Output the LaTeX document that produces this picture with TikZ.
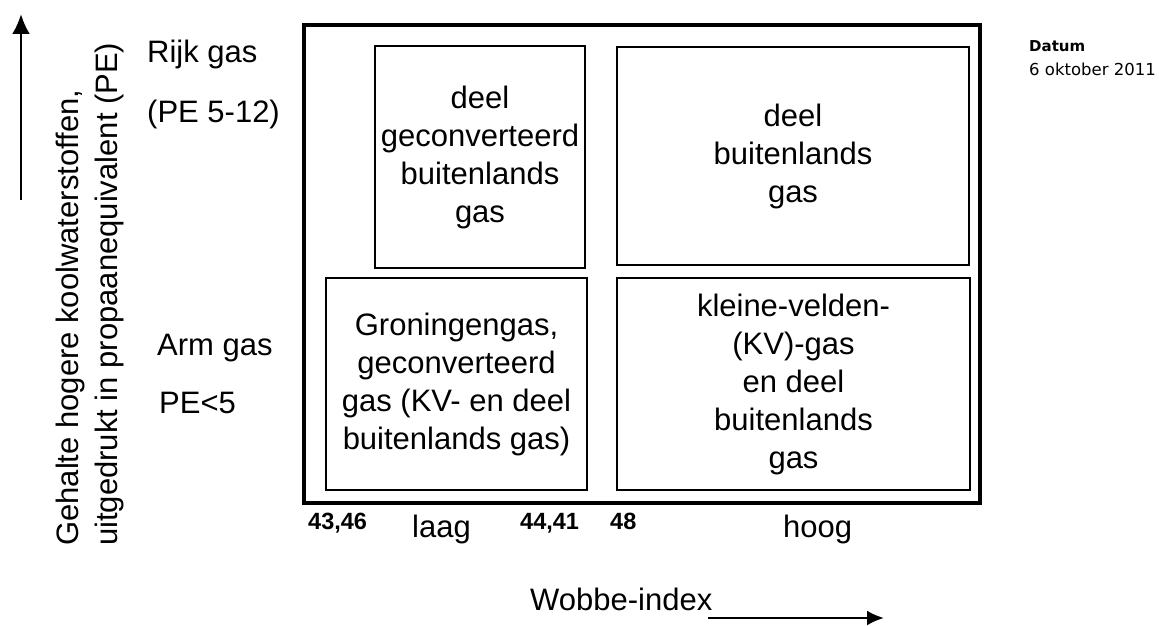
\documentclass[tikz,border=0pt]{standalone}
\usepackage{fontspec}
\setmainfont{Liberation Sans}
\newfontfamily\dejavu{DejaVu Sans}
\usetikzlibrary{arrows.meta}
\begin{document}
\begin{tikzpicture}[x=1pt,y=-1pt,
  box/.style={draw,line width=1.8pt,inner sep=0pt,align=center,font=\fontsize{31}{38}\selectfont},
  lbl/.style={inner sep=0pt,anchor=base west,font=\fontsize{31}{38}\selectfont},
  num/.style={inner sep=0pt,anchor=base west,font=\fontsize{23.5}{28}\selectfont\bfseries},
  axisarrow/.style={line width=2.8pt,-{Latex[length=20pt,width=18pt]}},
  xarrow/.style={line width=2.5pt,-{Latex[length=17pt,width=15pt]}}
]
\useasboundingbox (0,0) rectangle (1159,626);
% outer frame
\node[draw,line width=3.5pt,minimum width=676pt,minimum height=478pt,inner sep=0pt] (frame) at (642,264) {};
% boxes
\node[box,minimum width=210pt,minimum height=222pt] (tl) at (480,157) {deel\\geconverteerd\\buitenlands\\gas};
\node[box,minimum width=352pt,minimum height=218pt] (tr) at (793,156) {deel\\buitenlands\\gas};
\node[box,minimum width=261pt,minimum height=212pt] (bl) at (456.5,384) {Groningengas,\\geconverteerd\\gas (KV- en deel\\buitenlands gas)};
\node[box,minimum width=353pt,minimum height=212pt] (br) at (793.5,384) {kleine-velden-\\(KV)-gas\\en deel\\buitenlands\\gas};
% left labels
\node[lbl] (rijk) at (147,63) {Rijk gas};
\node[lbl] (pe1) at (147,122) {(PE 5-12)};
\node[lbl] (arm) at (157,355) {Arm gas};
\node[lbl] (pe2) at (159,413) {PE<5};
% vertical axis label
\node[lbl,rotate=90] (ylab1) at (78,546) {Gehalte hogere koolwaterstoffen,};
\node[lbl,rotate=90] (ylab2) at (117,546) {uitgedrukt in propaanequivalent (PE)};
% vertical arrow
\coordinate (yb) at (21,200);
\coordinate (yt) at (21,14);
\draw[axisarrow] (yb) -- (yt);
% bottom labels
\node[num] (n1) at (308,529) {43,46};
\node[num] (n2) at (520,529) {44,41};
\node[num] (n3) at (610,529) {48};
\node[lbl] (laag) at (412,537) {laag};
\node[lbl] (hoog) at (783,537) {hoog};
\node[lbl] (wobbe) at (530,610) {Wobbe-index};
\coordinate (xa) at (708,618);
\coordinate (xb) at (884,618);
\draw[xarrow] (xa) -- (xb);
% date
\node[inner sep=0pt,anchor=base west,font=\dejavu\bfseries\fontsize{15}{18}\selectfont] (datum) at (1029,52) {Datum};
\node[inner sep=0pt,anchor=base west,font=\dejavu\fontsize{16.5}{20}\selectfont] (date) at (1029,75) {6 oktober 2011};
\end{tikzpicture}
\end{document}
